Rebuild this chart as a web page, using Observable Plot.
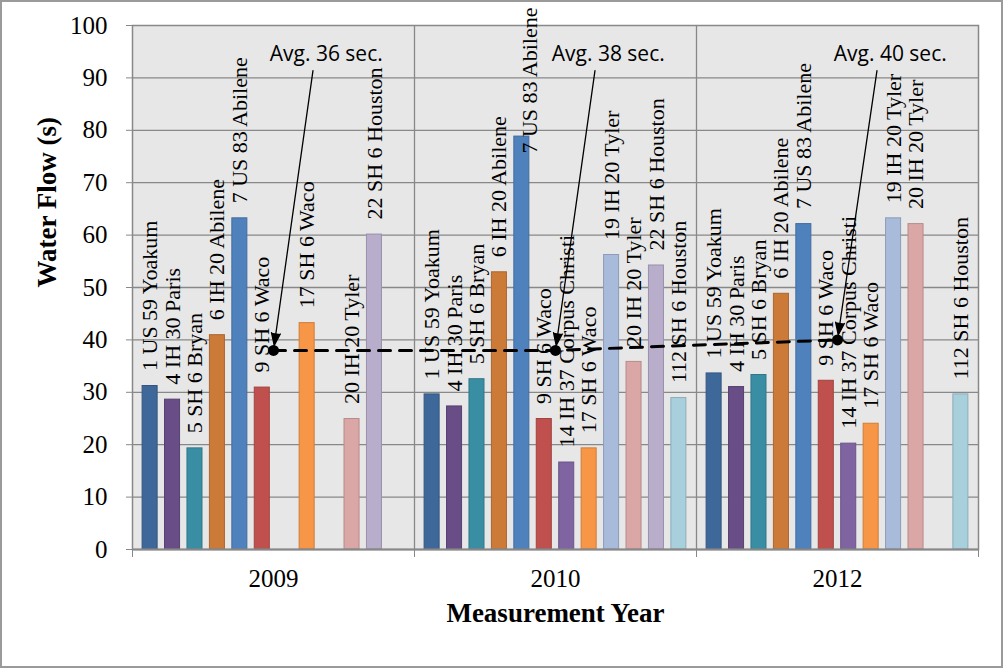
<!DOCTYPE html>
<html>
<head>
<meta charset="utf-8">
<script src="https://cdn.jsdelivr.net/npm/d3@7"></script>
<script src="https://cdn.jsdelivr.net/npm/@observablehq/plot@0.6"></script>
<style>
  body { margin: 0; background: #fff; }
  #chart svg { display: block; outline: 2px solid #9a9a9a; outline-offset: -2px; }
</style>
</head>
<body>
<div id="chart"></div>
<script>
// Measurement years (one group of bars each)
const years = ["2009", "2010", "2012"];

// Test sites, in bar order within each year
const sites = [
  "1 US 59 Yoakum", "4 IH 30 Paris", "5 SH 6 Bryan", "6 IH 20 Abilene",
  "7 US 83 Abilene", "9 SH 6 Waco", "14 IH 37 Corpus Christi", "17 SH 6 Waco",
  "19 IH 20 Tyler", "20 IH 20 Tyler", "22 SH 6 Houston", "112 SH 6 Houston"
];

// Water flow time (s) per site; null = site not measured that year
const flow2009 = [31.2, 28.6, 19.3, 40.9, 63.2, 30.9, null, 43.2, null, 24.9, 60.1, null];
const flow2010 = [29.6, 27.3, 32.5, 52.9, 78.8, 24.9, 16.6, 19.3, 56.2, 35.8, 54.2, 28.9];
const flow2012 = [33.6, 31.0, 33.3, 48.8, 62.1, 32.2, 20.2, 24.0, 63.2, 62.1, null, 29.6];

// Yearly average marker and its callout text
const avgFlow = [38, 38, 40];
const avgNotes = ["Avg. 36 sec.", "Avg. 38 sec.", "Avg. 40 sec."];

const siteColors = [
  "#3e6899", "#684d87", "#3a8ea4", "#cc7a38", "#4f81bd", "#c0504d",
  "#8064a2", "#f79646", "#a9bbdb", "#dba6a6", "#b8adcb", "#a8cfdc"
];

const yTicks = d3.range(0, 101, 10);

// ---- layout helpers ----
const flows = [flow2009, flow2010, flow2012];
const colorOf = new Map(sites.map((s, i) => [s, siteColors[i]]));
// each year occupies one unit of x; sites share it as evenly spaced slots
const slot = d3.scaleBand(sites, [0, 1]).paddingInner(0.33).paddingOuter(0.45);

const bars = [];
years.forEach((year, g) => sites.forEach((site, i) => {
  const value = flows[g][i];
  if (value == null) return;
  const x1 = g + slot(site);
  bars.push({year, site, value, x1, x2: x1 + slot.bandwidth(), xm: x1 + slot.bandwidth() / 2});
}));

const avgRows = years.map((year, g) => ({year, g, value: avgFlow[g], note: avgNotes[g]}));

// callout placement relative to each year group (x in group units, y in seconds)
const noteX = 0.687, noteY = 94.6, arrowFromX = 0.64, arrowFromY = 91.4;

const serif = "Liberation Serif, Times New Roman, serif";
const grid = "#888888";

const chart = Plot.plot({
  width: 1003,
  height: 668,
  marginLeft: 132,
  marginRight: 25,
  marginTop: 25,
  marginBottom: 119,
  style: {background: "#fff", color: "#000"},
  x: {type: "linear", domain: [0, 3]},
  y: {domain: [0, 100]},
  color: {type: "identity"},
  marks: [
    Plot.frame({fill: "#e7e7e7", stroke: null}),
    Plot.ruleY(yTicks.slice(1, -1), {stroke: grid, strokeWidth: 1.3}),
    Plot.ruleX([1, 2], {stroke: grid, strokeWidth: 1.3}),
    Plot.rectY(bars, {
      x1: "x1", x2: "x2", y: "value",
      fill: d => colorOf.get(d.site),
      stroke: d => d3.color(colorOf.get(d.site)).darker(0.5).formatHex(),
      strokeWidth: 1
    }),
    Plot.frame({stroke: grid, strokeWidth: 1.5}),
    Plot.ruleY([0], {stroke: "#888888", strokeWidth: 2}),
    // site labels above bars
    Plot.text(bars.filter(d => d.value <= 70), {
      x: "xm", y: "value", text: "site", rotate: -90, textAnchor: "start",
      dy: -15, fontFamily: serif, fontSize: 22, letterSpacing: "1px", fill: "#000"
    }),
    // a label too tall to fit above its bar hangs from the top edge instead
    Plot.text(bars.filter(d => d.value > 70), {
      x: "xm", text: "site", frameAnchor: "top", rotate: -90, textAnchor: "end",
      dy: -18, fontFamily: serif, fontSize: 22, letterSpacing: "1px", fill: "#000"
    }),
    // yearly average line
    Plot.line(avgRows, {
      x: d => d.g + 0.5, y: "value", stroke: "#000", strokeWidth: 3, strokeDasharray: "12,9"
    }),
    Plot.dot(avgRows, {x: d => d.g + 0.5, y: "value", r: 5.5, fill: "#000", stroke: null}),
    Plot.arrow(avgRows, {
      x1: d => d.g + arrowFromX, y1: () => arrowFromY,
      x2: d => d.g + 0.5, y2: "value",
      stroke: "#000", fill: "#000", strokeWidth: 1.3, headLength: 15, headAngle: 40, insetEnd: 5
    }),
    Plot.text(avgRows, {
      x: d => d.g + noteX, y: () => noteY, text: "note",
      fontFamily: "Open Sans, sans-serif", fontSize: 21, fill: "#000"
    }),
    // axes
    Plot.axisY({
      ticks: yTicks, tickSize: 6, tickPadding: 19, stroke: grid,
      fontFamily: serif, fontSize: 25, label: null
    }),
    Plot.axisX({
      ticks: [0, 1, 2, 3], tickSize: 8, stroke: grid, tickFormat: () => "", label: null
    }),
    Plot.axisX({
      ticks: [0.5, 1.5, 2.5], tickSize: 0, tickPadding: 20,
      tickFormat: d => years[Math.floor(d)], fontFamily: serif, fontSize: 25, label: null
    }),
    Plot.text(["Water Flow (s)"], {
      frameAnchor: "left", rotate: -90, dx: -85, text: d => d,
      fontFamily: serif, fontWeight: "bold", fontSize: 27, fill: "#000"
    }),
    Plot.text(["Measurement Year"], {
      frameAnchor: "bottom", dy: 72, text: d => d,
      fontFamily: serif, fontWeight: "bold", fontSize: 27, fill: "#000"
    })
  ]
});

document.getElementById("chart").append(chart);
</script>
</body>
</html>
